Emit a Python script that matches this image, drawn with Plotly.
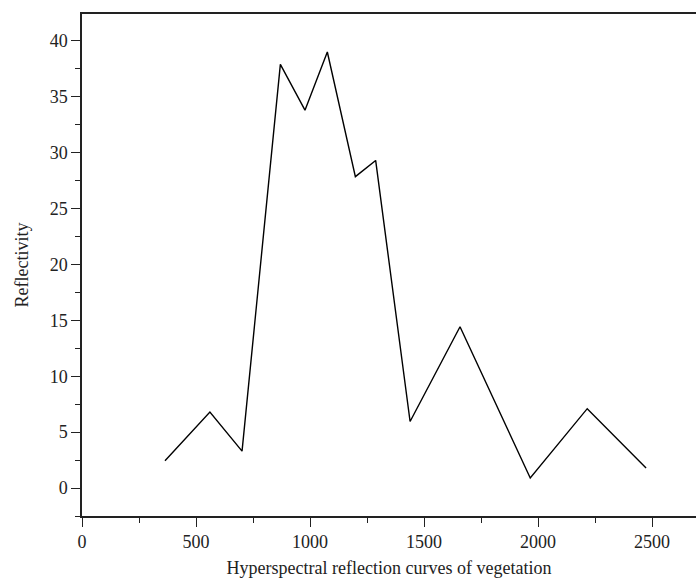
import plotly.graph_objects as go

wavelength = [364, 561, 702, 870, 978, 1076, 1199, 1288, 1439, 1658, 1966, 2216, 2474]
reflectivity = [2.45, 6.8, 3.3, 37.9, 33.8, 39.0, 27.85, 29.3, 5.95, 14.43, 0.9, 7.1, 1.8]

x_ticks = [0, 500, 1000, 1500, 2000, 2500]
y_ticks = [0, 5, 10, 15, 20, 25, 30, 35, 40]

font_family = "Liberation Serif, Times New Roman, serif"

fig = go.Figure()
fig.add_trace(go.Scatter(
    x=wavelength, y=reflectivity, mode="lines",
    line=dict(color="black", width=1.4),
    showlegend=False, hoverinfo="skip",
))

fig.update_layout(
    width=696, height=584,
    margin=dict(l=82, r=0, t=14, b=68),
    paper_bgcolor="white", plot_bgcolor="white",
    font=dict(family=font_family, color="#222222", size=18),
)
fig.update_xaxes(
    range=[0, 2693],
    tickvals=x_ticks, ticktext=[str(v) for v in x_ticks],
    showgrid=False, zeroline=False,
    showline=True, linecolor="#222222", linewidth=1.5, mirror=True,
    ticks="outside", ticklen=9, tickwidth=1.3, tickcolor="#222222",
    minor=dict(dtick=250, tick0=0, ticks="outside", ticklen=5, tickwidth=1.3, tickcolor="#222222", showgrid=False),
    title=dict(text="Hyperspectral reflection curves of vegetation", font=dict(size=18), standoff=10),
    tickfont=dict(size=18),
)
fig.update_yaxes(
    range=[-2.5, 42.4],
    tickvals=y_ticks, ticktext=[str(v) for v in y_ticks],
    showgrid=False, zeroline=False,
    showline=True, linecolor="#222222", linewidth=1.5, mirror=False,
    ticks="outside", ticklen=9, tickwidth=1.3, tickcolor="#222222",
    minor=dict(dtick=2.5, tick0=0, ticks="outside", ticklen=5, tickwidth=1.3, tickcolor="#222222", showgrid=False),
    title=dict(text="Reflectivity", font=dict(size=18), standoff=16),
    tickfont=dict(size=18),
)

fig.write_html(
    "out.html",
    config={"displayModeBar": False},
    post_script="document.body.style.margin='0';document.body.style.overflow='hidden';",
)
